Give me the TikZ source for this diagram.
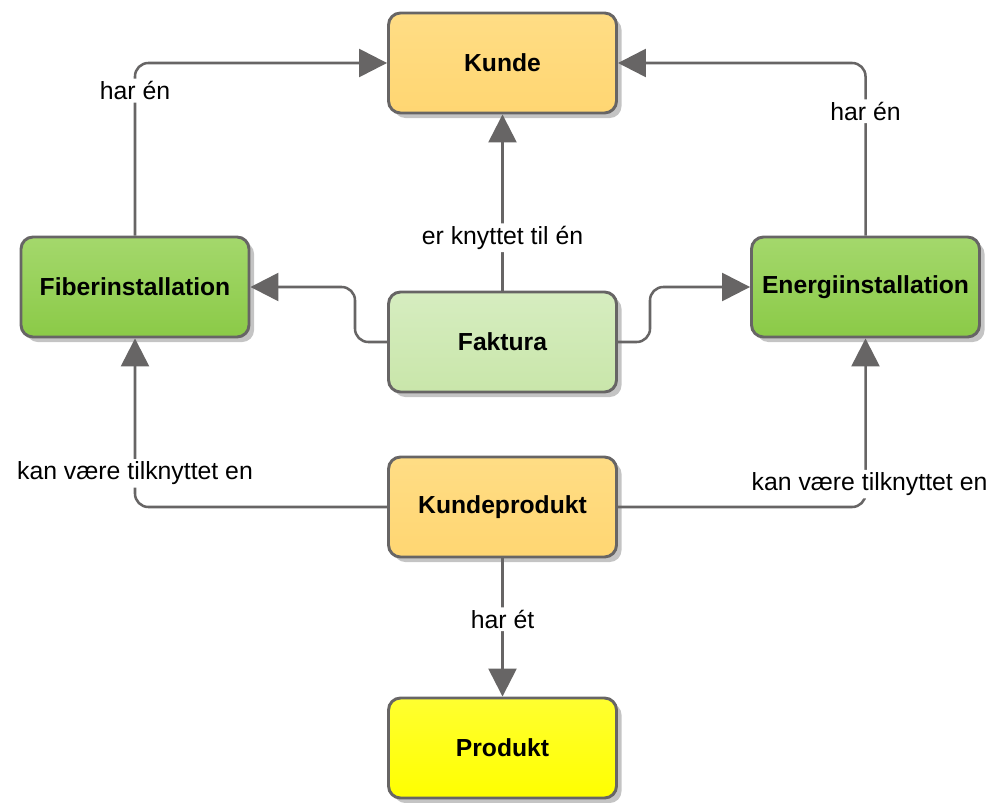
\documentclass[tikz,border=0pt]{standalone}
\usepackage{fontspec}
\setmainfont{Liberation Sans}
\usetikzlibrary{arrows.meta,shadows}

\definecolor{edgegray}{HTML}{676565}
\definecolor{shadowgray}{HTML}{C4C4C4}

\tikzset{
  entity/.style={
    draw=edgegray, line width=2.2pt, rounded corners=9pt,
    minimum width=171pt, minimum height=75pt,
    font=\fontsize{18.5}{22}\selectfont\bfseries, text=black,
    drop shadow={shadow xshift=3.8pt, shadow yshift=-3.8pt, fill=shadowgray, opacity=1}
  },
  orange/.style={entity, top color=orange1, bottom color=orange2},
  greenbox/.style={entity, top color=green1, bottom color=green2},
  palegreen/.style={entity, top color=pale1, bottom color=pale2},
  yellowbox/.style={entity, top color=yellow1, bottom color=yellow2},
  link/.style={draw=edgegray, line width=1.9pt, rounded corners=10pt,
    -{Triangle[length=21pt,width=21pt]}},
  plainlink/.style={draw=edgegray, line width=1.9pt, rounded corners=10pt},
  tag/.style={fill=white, inner sep=2pt, text=black,
    font=\fontsize{18.6}{22}\selectfont}
}
\definecolor{orange1}{HTML}{FFDD85}
\definecolor{orange2}{HTML}{FFD672}
\definecolor{green1}{HTML}{A4D86C}
\definecolor{green2}{HTML}{8BCA47}
\definecolor{pale1}{HTML}{D6EDC0}
\definecolor{pale2}{HTML}{C9E6AA}
\definecolor{yellow1}{HTML}{FFFF30}
\definecolor{yellow2}{HTML}{FFFF00}

\begin{document}
\begin{tikzpicture}[x=0.75pt, y=-0.75pt]
  \useasboundingbox (0,0) rectangle (994,802);

  % entities
  \node[orange]    (kunde)   at (502.5, 63)  {Kunde};
  \node[greenbox]  (fiber)   at (135, 287)   {Fiberinstallation};
  \node[greenbox]  (energi)  at (865.5, 287) {Energiinstallation};
  \node[palegreen] (faktura) at (502.5, 342) {Faktura};
  \node[orange]    (kprod)   at (502.5, 507) {Kundeprodukt};
  \node[yellowbox] (produkt) at (502.5, 748) {Produkt};

  % relations
  \draw[link] (fiber.north) |- node[tag, pos=0.42] {har én} (kunde.west);
  \draw[link] (energi.north) |- node[tag, pos=0.36] {har én} (kunde.east);
  \draw[link] (faktura.north) -- node[tag, pos=0.30] {er knyttet til én} (kunde.south);

  \coordinate (fl) at (355, 342);
  \coordinate (fr) at (650, 342);
  \draw[link] (faktura.west) -- (fl) |- (fiber.east);
  \draw[link] (faktura.east) -- (fr) |- (energi.west);

  \draw[link] (kprod.west) -| node[tag, pos=0.60] {kan være tilknyttet en} (fiber.south);
  \draw[link] (kprod.east) -| node[tag, pos=0.568, xshift=3pt] {kan være tilknyttet en} (energi.south);
  \draw[link] (kprod.south) -- node[tag, pos=0.44] {har ét} (produkt.north);
\end{tikzpicture}
\end{document}
